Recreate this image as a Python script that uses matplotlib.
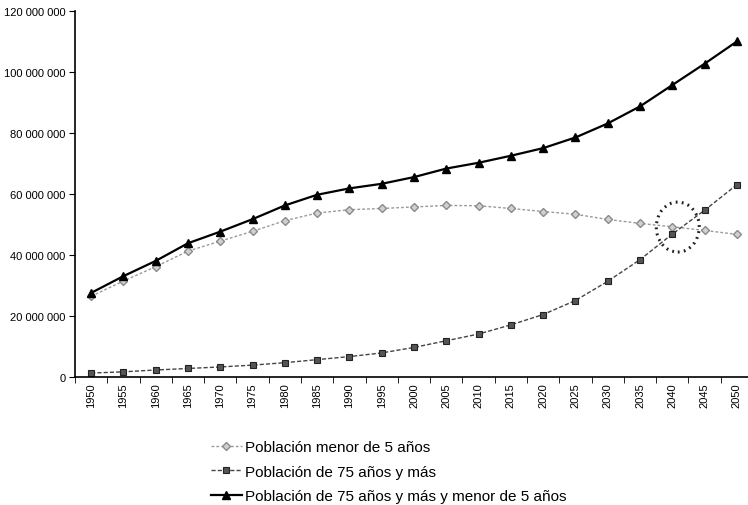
import numpy as np
import matplotlib
matplotlib.use("Agg")
import matplotlib.pyplot as plt
from matplotlib.patches import Ellipse
from matplotlib.ticker import FuncFormatter, FixedLocator

plt.rcParams['font.family'] = ['Liberation Sans', 'DejaVu Sans']

# datos (millones)
anios = [1950, 1955, 1960, 1965, 1970, 1975, 1980, 1985, 1990, 1995, 2000,
         2005, 2010, 2015, 2020, 2025, 2030, 2035, 2040, 2045, 2050]
menor5 = [26.4, 31.4, 36.1, 41.2, 44.5, 47.7, 51.2, 53.7, 54.8, 55.2, 55.7,
          56.2, 56.1, 55.2, 54.2, 53.3, 51.6, 50.3, 49.2, 48.0, 46.7]
mayor75 = [1.2, 1.6, 2.2, 2.7, 3.2, 3.8, 4.6, 5.6, 6.6, 7.8, 9.6,
           11.8, 14.0, 17.0, 20.4, 25.0, 31.3, 38.4, 46.8, 54.6, 63.0]
total = [27.5, 33.0, 38.0, 43.8, 47.6, 51.7, 56.2, 59.7, 61.8, 63.3, 65.5,
         68.3, 70.2, 72.5, 75.0, 78.5, 83.1, 88.7, 95.7, 102.7, 110.0]

etiquetas = ['Población menor de 5 años',
             'Población de 75 años y más',
             'Población de 75 años y más y menor de 5 años']

x = np.arange(len(anios))
m = 1e6

fig = plt.figure(figsize=(7.48, 5.06), dpi=100)
ax = fig.add_axes([75 / 748, 1 - 377.7 / 506, 678 / 748, 365.7 / 506])

ax.plot(x, np.array(menor5) * m, color='#9a9a9a', ls=(0, (2, 1.5)), lw=1.0,
        marker='D', ms=4.5, mfc='#d0d0d0', mec='#8a8a8a', mew=1.0, label=etiquetas[0])
ax.plot(x, np.array(mayor75) * m, color='#444444', ls=(0, (3, 1.5)), lw=1.0,
        marker='s', ms=5, mfc='#555555', mec='#222222', mew=0.8, label=etiquetas[1])
ax.plot(x, np.array(total) * m, color='black', ls='-', lw=1.6,
        marker='^', ms=6, mfc='black', mec='black', label=etiquetas[2])

# circulo punteado en el cruce
ax.add_patch(Ellipse((18.17, 49.1 * m), 1.33, 16.4 * m, fill=False,
                     ec='#222222', lw=2.2, ls=(0, (0.6, 1.4))))

ax.set_xlim(-0.5, len(anios) - 0.5)
ax.set_ylim(0, 120 * m)
ax.set_yticks(np.arange(0, 121, 20) * m)
ax.yaxis.set_major_formatter(FuncFormatter(lambda v, p: '{:,.0f}'.format(v).replace(',', ' ')))
ax.set_xticks(x)
ax.set_xticklabels([str(a) for a in anios], rotation=90, fontsize=8)
ax.xaxis.set_minor_locator(FixedLocator(np.arange(-0.5, len(anios), 1)))
ax.tick_params(axis='x', which='major', length=0, pad=4)
ax.tick_params(axis='x', which='minor', length=4, direction='out')
ax.tick_params(axis='y', length=4, direction='out', labelsize=8, pad=3)

for s in ['top', 'right']:
    ax.spines[s].set_visible(False)
ax.spines['left'].set_linewidth(1.2)
ax.spines['bottom'].set_linewidth(1.2)

fig.legend(loc='upper left', bbox_to_anchor=(205 / 748, 1 - 435 / 506), frameon=False,
           fontsize=11, handlelength=2.0, handletextpad=0.25, labelspacing=0.68,
           borderaxespad=0)

fig.savefig('out.png', dpi=100)
